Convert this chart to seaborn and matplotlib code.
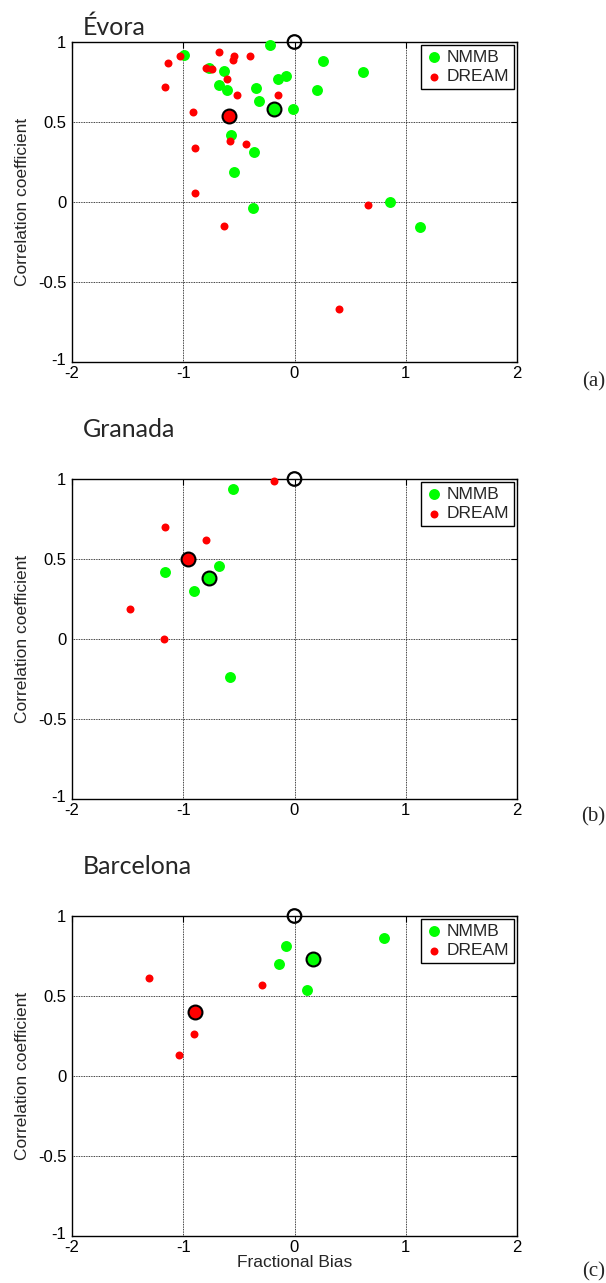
import matplotlib
matplotlib.use("Agg")
import matplotlib.pyplot as plt
import matplotlib.transforms as mtransforms
import seaborn as sns
import pandas as pd

sns.set_style("white")
plt.rcParams["font.family"] = ["Liberation Sans", "DejaVu Sans"]
plt.rcParams["axes.unicode_minus"] = False

titles = ["Évora", "Granada", "Barcelona"]
panel_tags = ["(a)", "(b)", "(c)"]

# Évora
evora_nmmb_fb = [-0.22, -0.99, 0.26, -0.77, -0.63, 0.62, -0.08, -0.15, -0.68, -0.61,
                 -0.35, 0.20, -0.32, -0.015, -0.57, -0.36, -0.54, 0.86, -0.37, 1.13]
evora_nmmb_r = [0.98, 0.92, 0.88, 0.84, 0.82, 0.81, 0.79, 0.77, 0.73, 0.70,
                0.71, 0.70, 0.63, 0.58, 0.42, 0.31, 0.19, 0.00, -0.04, -0.155]
evora_dream_fb = [-1.03, -1.14, -0.68, -0.54, -0.55, -0.40, -0.80, -0.74, -0.61, -1.16,
                  -0.52, -0.15, -0.91, -0.58, -0.44, -0.89, -0.89, 0.66, -0.63, 0.40]
evora_dream_r = [0.914, 0.867, 0.94, 0.914, 0.89, 0.91, 0.84, 0.83, 0.77, 0.72,
                 0.67, 0.67, 0.56, 0.38, 0.36, 0.34, 0.055, -0.02, -0.15, -0.67]
evora_nmmb_mean = (-0.18, 0.58)
evora_dream_mean = (-0.59, 0.54)

# Granada
granada_nmmb_fb = [-0.55, -0.68, -1.16, -0.90, -0.58]
granada_nmmb_r = [0.94, 0.456, 0.42, 0.30, -0.24]
granada_dream_fb = [-0.18, -1.165, -0.80, -1.48, -1.17]
granada_dream_r = [0.99, 0.70, 0.62, 0.19, 0.00]
granada_nmmb_mean = (-0.77, 0.38)
granada_dream_mean = (-0.96, 0.50)

# Barcelona
barcelona_nmmb_fb = [0.80, -0.08, -0.14, 0.11]
barcelona_nmmb_r = [0.86, 0.81, 0.70, 0.535]
barcelona_dream_fb = [-1.31, -0.29, -0.90, -1.04]
barcelona_dream_r = [0.61, 0.57, 0.265, 0.13]
barcelona_nmmb_mean = (0.17, 0.73)
barcelona_dream_mean = (-0.89, 0.40)

reference_point = (0.0, 1.0)

x_ticks = [-2, -1, 0, 1, 2]
y_ticks = [-1, -0.5, 0, 0.5, 1]
y_tick_labels = ["-1", "-0.5", "0", "0.5", "1"]

panels = [
    (evora_nmmb_fb, evora_nmmb_r, evora_dream_fb, evora_dream_r, evora_nmmb_mean, evora_dream_mean),
    (granada_nmmb_fb, granada_nmmb_r, granada_dream_fb, granada_dream_r, granada_nmmb_mean, granada_dream_mean),
    (barcelona_nmmb_fb, barcelona_nmmb_r, barcelona_dream_fb, barcelona_dream_r, barcelona_nmmb_mean, barcelona_dream_mean),
]

W, H = 606, 1283
fig = plt.figure(figsize=(W / 100, H / 100), dpi=100)

GREEN = "#00ff00"
RED = "#ff0000"

axes_tops = [42, 479, 916]
title_baselines = [35, 437, 874]
tag_centers = [382, 817, 1272]
ax_left, ax_w, ax_h = 72, 445, 320

for i, (nfb, nr, dfb, dr, nmean, dmean) in enumerate(panels):
    top = axes_tops[i]
    ax = fig.add_axes([ax_left / W, 1 - (top + ax_h) / H, ax_w / W, ax_h / H])
    dfn = pd.DataFrame({"fb": nfb, "r": nr})
    dfd = pd.DataFrame({"fb": dfb, "r": dr})
    sns.scatterplot(data=dfn, x="fb", y="r", ax=ax, color=GREEN, s=62, linewidth=0,
                    label="NMMB", zorder=3)
    sns.scatterplot(data=dfd, x="fb", y="r", ax=ax, color=RED, s=33, linewidth=0,
                    label="DREAM", zorder=4)
    sns.scatterplot(x=[nmean[0]], y=[nmean[1]], ax=ax, color=GREEN, s=100,
                    edgecolor="black", linewidth=1.5, zorder=5, legend=False)
    sns.scatterplot(x=[dmean[0]], y=[dmean[1]], ax=ax, color=RED, s=100,
                    edgecolor="black", linewidth=1.5, zorder=5, legend=False)
    sns.scatterplot(x=[reference_point[0]], y=[reference_point[1]], ax=ax,
                    facecolor="none", s=95, edgecolor="black", linewidth=1.6,
                    zorder=6, legend=False)
    for coll in ax.collections:
        coll.set_clip_on(False)

    ax.set_xlim(-2, 2)
    ax.set_ylim(-1, 1)
    ax.set_xticks(x_ticks)
    ax.set_xticklabels([str(t) for t in x_ticks])
    ax.set_yticks(y_ticks)
    ax.set_yticklabels(y_tick_labels)
    ax.grid(True, color="black", linestyle=(0, (1, 1)), linewidth=0.6)
    ax.set_axisbelow(True)
    for sp in ax.spines.values():
        sp.set_color("black")
        sp.set_linewidth(1.0)
        sp.set_zorder(2.5)
    ax.tick_params(direction="in", length=4, width=0.8, labelsize=12,
                   top=True, right=True, colors="black")
    ax.tick_params(axis="x", pad=3)
    ax.tick_params(axis="y", pad=4)
    # lift the lowest y label slightly so it does not collide with "-2"
    lbl = ax.get_yticklabels()[0]
    lbl.set_transform(lbl.get_transform() +
                      mtransforms.ScaledTranslation(0, 3 / 100, fig.dpi_scale_trans))

    ax.set_ylabel("Correlation coefficient", fontsize=12.5)
    ax.yaxis.set_label_coords(-0.095, 0.5)
    if i == 2:
        ax.set_xlabel("Fractional Bias", fontsize=12.5, labelpad=0)
    else:
        ax.set_xlabel("")

    leg = ax.legend(loc="upper right", fontsize=12.5, frameon=True, fancybox=False,
                    edgecolor="black", framealpha=1, borderaxespad=0.2, borderpad=0.25,
                    handletextpad=0.25, handlelength=1.0, labelspacing=0.25)
    leg.get_frame().set_linewidth(1.0)

    fig.text(83 / W, 1 - title_baselines[i] / H, titles[i], fontsize=18,
             family=["Lato", "DejaVu Sans"], ha="left", va="baseline")
    fig.text(605 / W, 1 - tag_centers[i] / H, panel_tags[i], fontsize=15,
             family=["Liberation Serif", "DejaVu Serif"], ha="right", va="center")

fig.savefig("out.png", dpi=100)
